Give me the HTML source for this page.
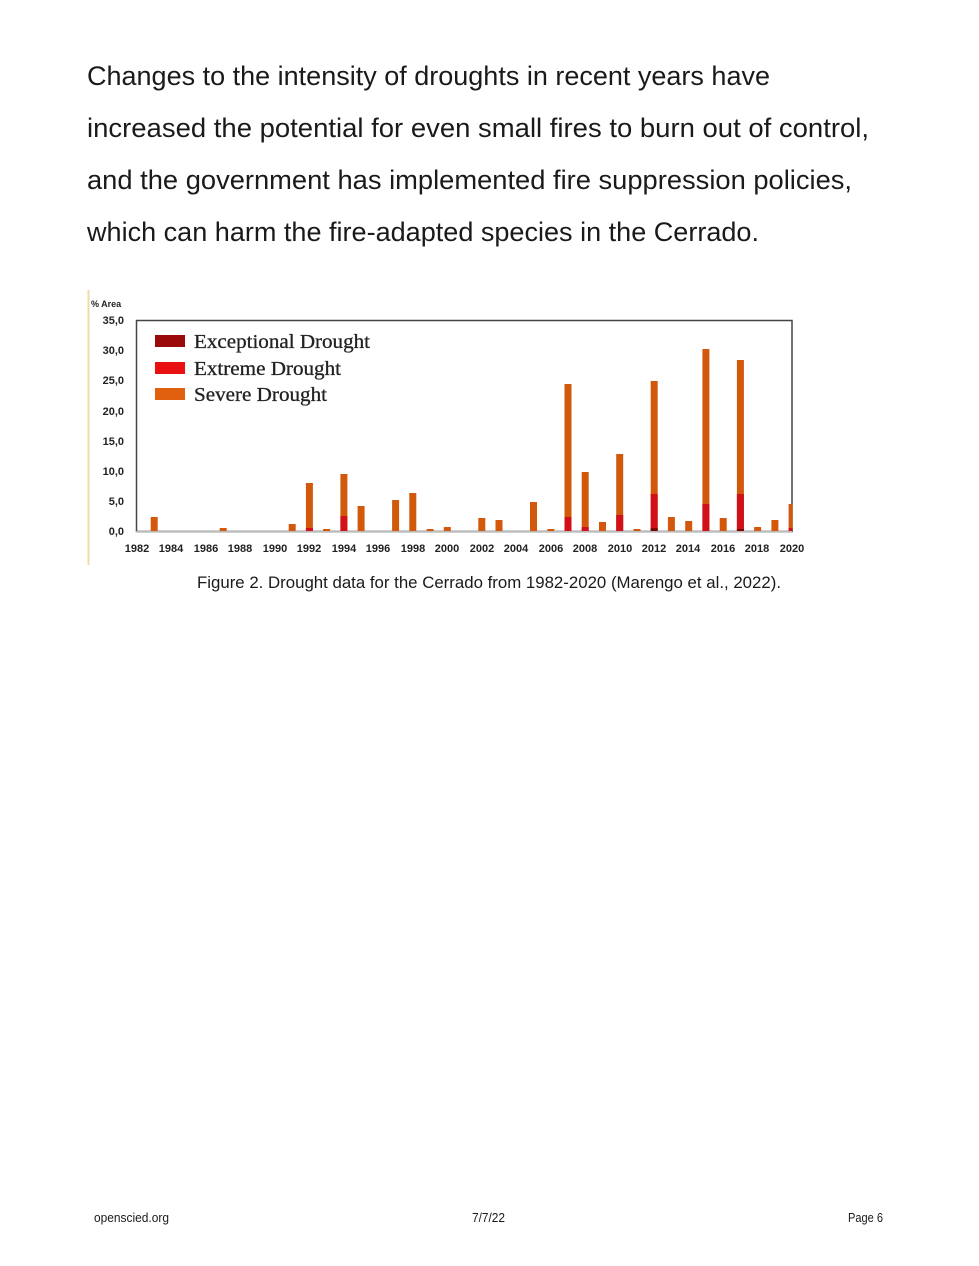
<!DOCTYPE html>
<html><head><meta charset="utf-8"><style>
html,body{margin:0;padding:0;background:#fff}
svg{display:block}
</style></head><body>
<svg width="979" height="1266" viewBox="0 0 979 1266" xmlns="http://www.w3.org/2000/svg">
<rect width="979" height="1266" fill="#fff"/>
<g font-family="Liberation Sans, sans-serif" font-size="27" fill="#1a1a1a">
<text x="87" y="85" textLength="683" lengthAdjust="spacingAndGlyphs">Changes to the intensity of droughts in recent years have</text>
<text x="87" y="137" textLength="782" lengthAdjust="spacingAndGlyphs">increased the potential for even small fires to burn out of control,</text>
<text x="87" y="189" textLength="765" lengthAdjust="spacingAndGlyphs">and the government has implemented fire suppression policies,</text>
<text x="87" y="241" textLength="672" lengthAdjust="spacingAndGlyphs">which can harm the fire-adapted species in the Cerrado.</text>
</g>
<line x1="88.5" y1="290" x2="88.5" y2="565" stroke="#eedca0" stroke-width="2"/>
<rect x="136.5" y="320.5" width="655.5" height="211" fill="none" stroke="#444" stroke-width="1.5"/>
<g font-family="Liberation Sans, sans-serif" font-weight="bold" fill="#222">
<text x="91" y="307" font-size="9">% Area</text>
<g font-size="11" text-anchor="end">
<text x="124" y="324">35,0</text><text x="124" y="354">30,0</text><text x="124" y="384">25,0</text>
<text x="124" y="415">20,0</text><text x="124" y="445">15,0</text><text x="124" y="475">10,0</text>
<text x="124" y="505">5,0</text><text x="124" y="535">0,0</text>
</g>
<g font-size="11" text-anchor="middle">
<text x="137" y="552">1982</text><text x="171" y="552">1984</text><text x="206" y="552">1986</text><text x="240" y="552">1988</text><text x="275" y="552">1990</text><text x="309" y="552">1992</text><text x="344" y="552">1994</text><text x="378" y="552">1996</text><text x="413" y="552">1998</text><text x="447" y="552">2000</text><text x="482" y="552">2002</text><text x="516" y="552">2004</text><text x="551" y="552">2006</text><text x="585" y="552">2008</text><text x="620" y="552">2010</text><text x="654" y="552">2012</text><text x="688" y="552">2014</text><text x="723" y="552">2016</text><text x="757" y="552">2018</text><text x="792" y="552">2020</text>
</g>
</g>
<rect x="155" y="335" width="30" height="12" fill="#9a0a0a"/>
<rect x="155" y="362" width="30" height="12" fill="#e81010"/>
<rect x="155" y="388" width="30" height="12" fill="#e0600e"/>
<g font-family="Liberation Serif, serif" font-size="20" fill="#222" stroke="#222" stroke-width="0.3">
<text x="194" y="348" textLength="176" lengthAdjust="spacingAndGlyphs">Exceptional Drought</text>
<text x="194" y="375" textLength="147" lengthAdjust="spacingAndGlyphs">Extreme Drought</text>
<text x="194" y="401" textLength="133" lengthAdjust="spacingAndGlyphs">Severe Drought</text>
</g>
<g fill="#d2590c">
<rect x="150.7" y="517" width="7" height="14"/>
<rect x="219.7" y="528" width="7" height="3"/>
<rect x="288.7" y="524" width="7" height="7"/>
<rect x="305.9" y="483" width="7" height="48"/>
<rect x="323.1" y="529" width="7" height="2"/>
<rect x="340.4" y="474" width="7" height="57"/>
<rect x="357.6" y="506" width="7" height="25"/>
<rect x="392.1" y="500" width="7" height="31"/>
<rect x="409.3" y="493" width="7" height="38"/>
<rect x="426.6" y="529" width="7" height="2"/>
<rect x="443.8" y="527" width="7" height="4"/>
<rect x="478.3" y="518" width="7" height="13"/>
<rect x="495.5" y="520" width="7" height="11"/>
<rect x="530.0" y="502" width="7" height="29"/>
<rect x="547.3" y="529" width="7" height="2"/>
<rect x="564.5" y="384" width="7" height="147"/>
<rect x="581.7" y="472" width="7" height="59"/>
<rect x="599.0" y="522" width="7" height="9"/>
<rect x="616.2" y="454" width="7" height="77"/>
<rect x="633.5" y="529" width="7" height="2"/>
<rect x="650.7" y="381" width="7" height="150"/>
<rect x="667.9" y="517" width="7" height="14"/>
<rect x="685.2" y="521" width="7" height="10"/>
<rect x="702.4" y="349" width="7" height="182"/>
<rect x="719.7" y="518" width="7" height="13"/>
<rect x="736.9" y="360" width="7" height="171"/>
<rect x="754.1" y="527" width="7" height="4"/>
<rect x="771.4" y="520" width="7" height="11"/>
<rect x="788.6" y="504" width="4" height="27"/>
</g>
<g fill="#d2101a">
<rect x="305.9" y="528" width="7" height="3"/>
<rect x="340.4" y="516" width="7" height="15"/>
<rect x="564.5" y="517" width="7" height="14"/>
<rect x="581.7" y="527" width="7" height="4"/>
<rect x="616.2" y="515" width="7" height="16"/>
<rect x="650.7" y="494" width="7" height="37"/>
<rect x="702.4" y="504" width="7" height="27"/>
<rect x="736.9" y="494" width="7" height="37"/>
<rect x="788.6" y="528" width="4" height="3"/>
</g>
<g fill="#7a0505">
<rect x="650.7" y="528" width="7" height="3"/>
<rect x="736.9" y="529" width="7" height="2"/>
</g>
<line x1="136" y1="531.5" x2="792" y2="531.5" stroke="#bbb" stroke-width="1"/>
<text x="197" y="588" font-family="Liberation Sans, sans-serif" font-size="17" fill="#1a1a1a" textLength="584" lengthAdjust="spacingAndGlyphs">Figure 2.  Drought data for the Cerrado from 1982-2020 (Marengo et al., 2022).</text>
<g font-family="Liberation Sans, sans-serif" font-size="13" fill="#1a1a1a">
<text x="94" y="1222" textLength="75" lengthAdjust="spacingAndGlyphs">openscied.org</text>
<text x="472" y="1222" textLength="33" lengthAdjust="spacingAndGlyphs">7/7/22</text>
<text x="848" y="1222" textLength="35" lengthAdjust="spacingAndGlyphs">Page 6</text>
</g>
</svg>
</body></html>
